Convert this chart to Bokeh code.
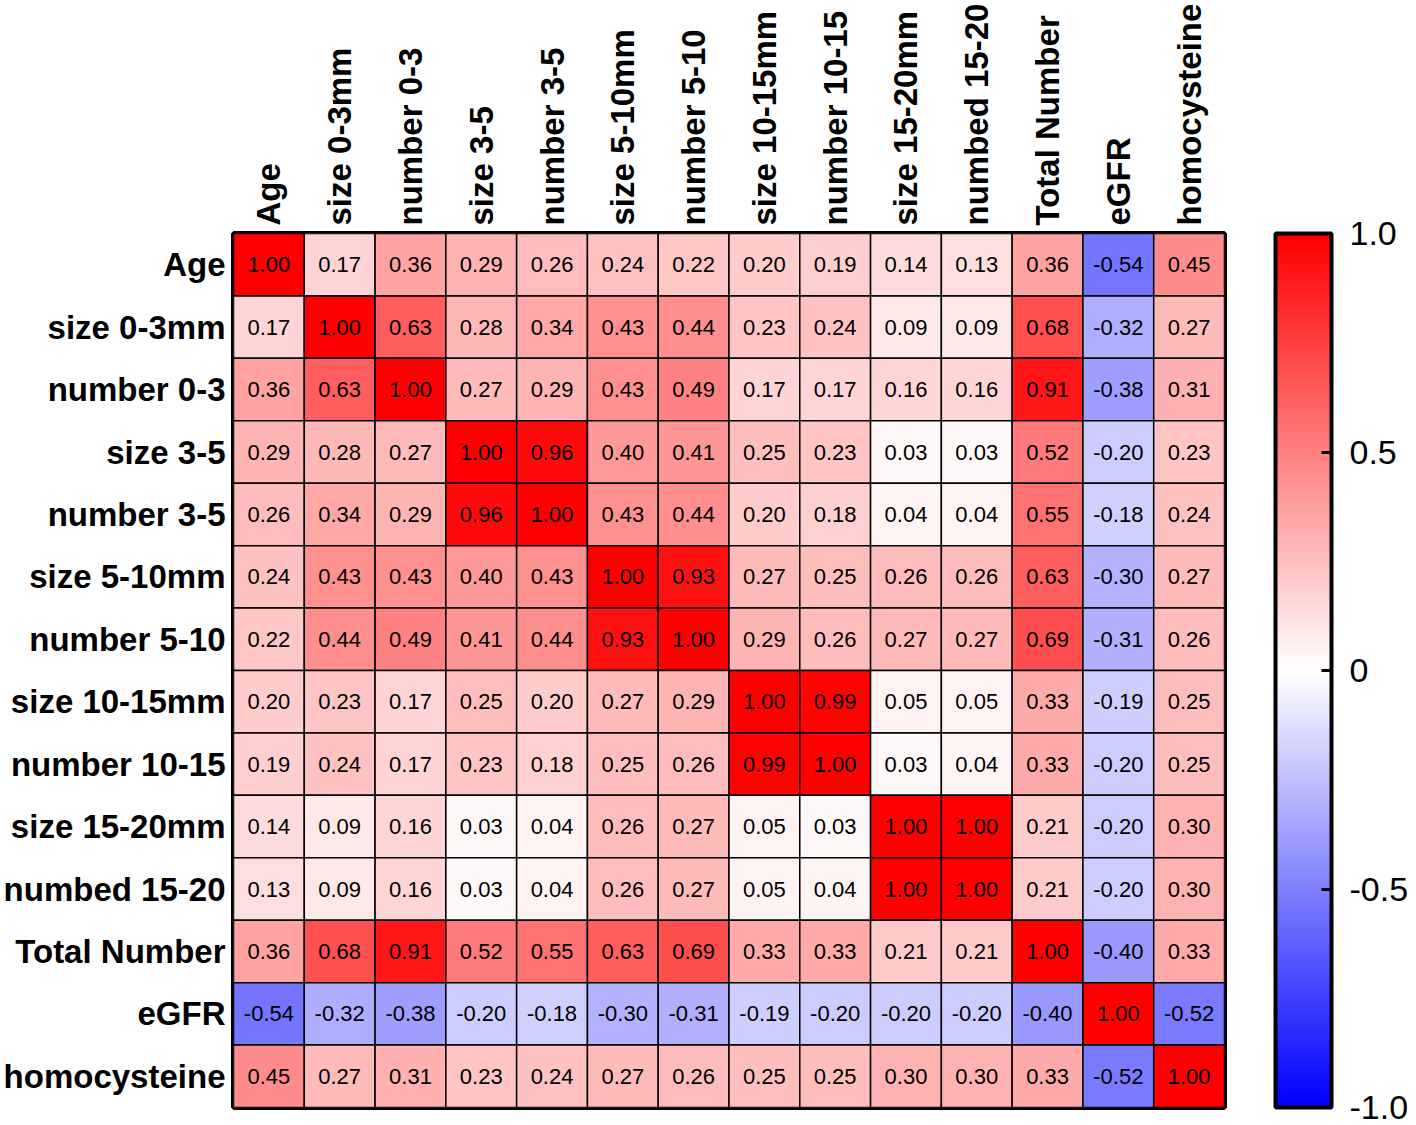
import numpy as np
from bokeh.plotting import figure
from bokeh.models import (ColumnDataSource, LinearColorMapper, ColorBar, FixedTicker,
                          FactorRange, CustomJSTickFormatter, Title)
from bokeh.core.properties import value
from bokeh.embed import file_html
from bokeh.resources import INLINE

labels = ["Age", "size 0-3mm", "number 0-3", "size 3-5", "number 3-5", "size 5-10mm",
          "number 5-10", "size 10-15mm", "number 10-15", "size 15-20mm", "numbed 15-20",
          "Total Number", "eGFR", "homocysteine"]

row_age = [1.00, 0.17, 0.36, 0.29, 0.26, 0.24, 0.22, 0.20, 0.19, 0.14, 0.13, 0.36, -0.54, 0.45]
row_size_0_3 = [0.17, 1.00, 0.63, 0.28, 0.34, 0.43, 0.44, 0.23, 0.24, 0.09, 0.09, 0.68, -0.32, 0.27]
row_num_0_3 = [0.36, 0.63, 1.00, 0.27, 0.29, 0.43, 0.49, 0.17, 0.17, 0.16, 0.16, 0.91, -0.38, 0.31]
row_size_3_5 = [0.29, 0.28, 0.27, 1.00, 0.96, 0.40, 0.41, 0.25, 0.23, 0.03, 0.03, 0.52, -0.20, 0.23]
row_num_3_5 = [0.26, 0.34, 0.29, 0.96, 1.00, 0.43, 0.44, 0.20, 0.18, 0.04, 0.04, 0.55, -0.18, 0.24]
row_size_5_10 = [0.24, 0.43, 0.43, 0.40, 0.43, 1.00, 0.93, 0.27, 0.25, 0.26, 0.26, 0.63, -0.30, 0.27]
row_num_5_10 = [0.22, 0.44, 0.49, 0.41, 0.44, 0.93, 1.00, 0.29, 0.26, 0.27, 0.27, 0.69, -0.31, 0.26]
row_size_10_15 = [0.20, 0.23, 0.17, 0.25, 0.20, 0.27, 0.29, 1.00, 0.99, 0.05, 0.05, 0.33, -0.19, 0.25]
row_num_10_15 = [0.19, 0.24, 0.17, 0.23, 0.18, 0.25, 0.26, 0.99, 1.00, 0.03, 0.04, 0.33, -0.20, 0.25]
row_size_15_20 = [0.14, 0.09, 0.16, 0.03, 0.04, 0.26, 0.27, 0.05, 0.03, 1.00, 1.00, 0.21, -0.20, 0.30]
row_num_15_20 = [0.13, 0.09, 0.16, 0.03, 0.04, 0.26, 0.27, 0.05, 0.04, 1.00, 1.00, 0.21, -0.20, 0.30]
row_total = [0.36, 0.68, 0.91, 0.52, 0.55, 0.63, 0.69, 0.33, 0.33, 0.21, 0.21, 1.00, -0.40, 0.33]
row_egfr = [-0.54, -0.32, -0.38, -0.20, -0.18, -0.30, -0.31, -0.19, -0.20, -0.20, -0.20, -0.40, 1.00, -0.52]
row_homo = [0.45, 0.27, 0.31, 0.23, 0.24, 0.27, 0.26, 0.25, 0.25, 0.30, 0.30, 0.33, -0.52, 1.00]

colorbar_ticks = [-1.0, -0.5, 0.0, 0.5, 1.0]

matrix = [row_age, row_size_0_3, row_num_0_3, row_size_3_5, row_num_3_5, row_size_5_10,
          row_num_5_10, row_size_10_15, row_num_10_15, row_size_15_20, row_num_15_20,
          row_total, row_egfr, row_homo]

xs, ys, vals, txt = [], [], [], []
for r, row in zip(labels, matrix):
    for c, v in zip(labels, row):
        xs.append(c)
        ys.append(r)
        vals.append(v)
        txt.append("%.2f" % v)
src = ColumnDataSource(dict(x=xs, y=ys, v=vals, t=txt))

# blue -> white -> red palette
pal = []
for t in np.linspace(-1, 1, 256):
    if t < 0:
        g = int(round(255 * (1 + t)))
        pal.append("#%02x%02x%02x" % (g, g, 255))
    else:
        g = int(round(255 * (1 - t)))
        pal.append("#%02x%02x%02x" % (255, g, g))
mapper = LinearColorMapper(palette=pal, low=-1, high=1)

p = figure(x_range=FactorRange(*labels), y_range=FactorRange(*reversed(labels)),
           frame_width=991, frame_height=874, output_backend="svg",
           toolbar_location=None, x_axis_location="above",
           min_border_left=0, min_border_top=0, min_border_bottom=22, min_border_right=0)

p.rect(x="x", y="y", width=1, height=1, source=src,
       fill_color={"field": "v", "transform": mapper}, line_color="black", line_width=1.5)
p.text(x="x", y="y", text="t", source=src, text_align="center", text_baseline="middle",
       text_font=value("Liberation Sans"), text_font_size="22px", text_color="black")

p.grid.visible = False
p.outline_line_color = "black"
p.outline_line_width = 5
p.outline_line_alpha = 1

for ax in (p.xaxis[0], p.yaxis[0]):
    ax.axis_line_color = None
    ax.major_tick_line_color = None
    ax.minor_tick_line_color = None
    ax.major_label_text_font = "Liberation Sans"
    ax.major_label_text_font_style = "bold"
    ax.major_label_text_font_size = "33px"
    ax.major_label_text_color = "black"
    ax.major_label_standoff = 2
p.xaxis[0].major_label_orientation = np.pi / 2

# empty spacer between heatmap and colour bar
spacer = Title(text=" ", text_font_size="44px", standoff=0, offset=0)
p.add_layout(spacer, "right")

cb = ColorBar(color_mapper=mapper, width=56, padding=0, margin=0,
              ticker=FixedTicker(ticks=colorbar_ticks),
              formatter=CustomJSTickFormatter(code="return tick == 0 ? '0' : tick.toFixed(1)"),
              major_label_text_font="Liberation Sans", major_label_text_font_size="34px",
              major_label_text_color="black", label_standoff=18,
              major_tick_line_color="black", major_tick_line_width=3,
              major_tick_in=10, major_tick_out=0, minor_tick_line_color=None,
              bar_line_color="black", bar_line_width=4, border_line_color=None,
              background_fill_color=None)
p.add_layout(cb, "right")

open("out.html", "w").write(file_html(p, INLINE))
